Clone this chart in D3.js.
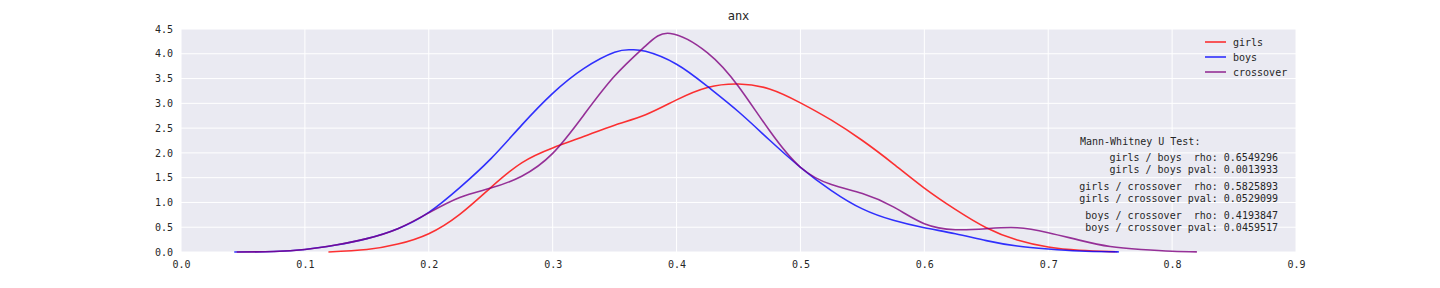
<!DOCTYPE html>
<html>
<head>
<meta charset="utf-8">
<script src="https://cdn.jsdelivr.net/npm/d3@7"></script>
<style>
  body { margin: 0; background: #fff; }
  text { font-family: "DejaVu Sans Mono", monospace; fill: #262626; }
</style>
</head>
<body>
<svg id="chart"></svg>
<script>
// KDE curves
var girlsX = [0.119, 0.15, 0.175, 0.2, 0.225, 0.25, 0.275, 0.3, 0.325, 0.35, 0.375, 0.4, 0.425, 0.45, 0.475, 0.5, 0.525, 0.55, 0.575, 0.6, 0.625, 0.65, 0.675, 0.7, 0.725, 0.75, 0.755];
var girlsY = [0, 0.05, 0.16, 0.37, 0.76, 1.30, 1.80, 2.10, 2.33, 2.56, 2.77, 3.07, 3.32, 3.39, 3.29, 3.01, 2.66, 2.25, 1.78, 1.29, 0.86, 0.49, 0.24, 0.10, 0.035, 0.008, 0.005];

var boysX = [0.043, 0.075, 0.1, 0.125, 0.15, 0.175, 0.2, 0.225, 0.25, 0.275, 0.3, 0.325, 0.35, 0.363, 0.375, 0.4, 0.425, 0.45, 0.475, 0.5, 0.525, 0.55, 0.575, 0.6, 0.625, 0.65, 0.675, 0.7, 0.725, 0.75, 0.757];
var boysY = [0, 0.01, 0.05, 0.14, 0.27, 0.47, 0.80, 1.30, 1.88, 2.56, 3.20, 3.70, 4.03, 4.08, 4.05, 3.79, 3.34, 2.83, 2.26, 1.71, 1.24, 0.87, 0.64, 0.49, 0.37, 0.23, 0.12, 0.06, 0.02, 0.005, 0.003];

var crossX = [0.045, 0.075, 0.1, 0.125, 0.15, 0.175, 0.2, 0.225, 0.25, 0.275, 0.3, 0.325, 0.35, 0.375, 0.395, 0.425, 0.45, 0.475, 0.5, 0.525, 0.55, 0.575, 0.6, 0.625, 0.65, 0.675, 0.7, 0.725, 0.75, 0.775, 0.8, 0.82];
var crossY = [0, 0.01, 0.05, 0.14, 0.27, 0.47, 0.79, 1.10, 1.29, 1.53, 1.99, 2.76, 3.55, 4.16, 4.41, 4.02, 3.34, 2.45, 1.71, 1.36, 1.18, 0.91, 0.57, 0.45, 0.47, 0.49, 0.39, 0.24, 0.11, 0.05, 0.015, 0.003];

var seriesNames = ["girls", "boys", "crossover"];
var seriesColors = ["red", "blue", "purple"];

var xTicks = [0.0, 0.1, 0.2, 0.3, 0.4, 0.5, 0.6, 0.7, 0.8, 0.9];
var yTicks = [0.0, 0.5, 1.0, 1.5, 2.0, 2.5, 3.0, 3.5, 4.0, 4.5];

var statsTitle = "Mann-Whitney U Test:";
var statsLines = [
  ["girls / boys  rho: 0.6549296", "girls / boys pval: 0.0013933"],
  ["girls / crossover  rho: 0.5825893", "girls / crossover pval: 0.0529099"],
  ["boys / crossover  rho: 0.4193847", "boys / crossover pval: 0.0459517"]
];

var width = 1440, height = 288;
var margin = {left: 181, right: 144, top: 29, bottom: 36};
var plotW = width - margin.left - margin.right;
var plotH = height - margin.top - margin.bottom;

var svg = d3.select("#chart").attr("width", width).attr("height", height);

var x = d3.scaleLinear().domain([0, 0.9]).range([0, plotW]);
var y = d3.scaleLinear().domain([0, 4.5]).range([plotH, 0]);

var g = svg.append("g").attr("transform", "translate(" + margin.left + "," + margin.top + ")");

g.append("rect").attr("width", plotW).attr("height", plotH).attr("fill", "#eaeaf2");

// grid
g.selectAll(".vgrid").data(xTicks).enter().append("line")
  .attr("x1", function(d) { return x(d); }).attr("x2", function(d) { return x(d); })
  .attr("y1", 0).attr("y2", plotH)
  .attr("stroke", "#fff").attr("stroke-width", 1);
g.selectAll(".hgrid").data(yTicks).enter().append("line")
  .attr("y1", function(d) { return y(d); }).attr("y2", function(d) { return y(d); })
  .attr("x1", 0).attr("x2", plotW)
  .attr("stroke", "#fff").attr("stroke-width", 1);

// axes (labels only, no tick marks)
var xAxis = g.append("g").attr("transform", "translate(0," + plotH + ")")
  .call(d3.axisBottom(x).tickValues(xTicks).tickFormat(d3.format(".1f")).tickSize(0).tickPadding(9));
var yAxis = g.append("g")
  .call(d3.axisLeft(y).tickValues(yTicks).tickFormat(d3.format(".1f")).tickSize(0).tickPadding(8));
[xAxis, yAxis].forEach(function(a) {
  a.select(".domain").remove();
  a.selectAll("text").attr("font-size", 10).attr("font-family", "DejaVu Sans Mono, monospace").attr("fill", "#262626");
});

// curves
var line = d3.line()
  .x(function(d) { return x(d[0]); })
  .y(function(d) { return y(Math.max(0, d[1])); })
  .curve(d3.curveNatural);

var curves = [d3.zip(girlsX, girlsY), d3.zip(boysX, boysY), d3.zip(crossX, crossY)];
g.selectAll(".kde").data(curves).enter().append("path")
  .attr("d", line)
  .attr("fill", "none")
  .attr("stroke", function(d, i) { return seriesColors[i]; })
  .attr("stroke-opacity", 0.8)
  .attr("stroke-width", 1.6);

// legend
var leg = svg.append("g").attr("transform", "translate(1205,42)");
seriesNames.forEach(function(name, i) {
  leg.append("line").attr("x1", 0).attr("x2", 21).attr("y1", i * 15).attr("y2", i * 15)
    .attr("stroke", seriesColors[i]).attr("stroke-opacity", 0.8).attr("stroke-width", 1.6);
  leg.append("text").attr("x", 28).attr("y", i * 15).attr("dy", "0.35em")
    .attr("font-size", 10).text(name);
});

// stats annotation
svg.append("text").attr("x", 1080).attr("y", 141).attr("dy", "0.35em")
  .attr("font-size", 10).text(statsTitle);
statsLines.forEach(function(pair, i) {
  pair.forEach(function(s, j) {
    svg.append("text").attr("x", 1278).attr("y", 157 + i * 29 + j * 12).attr("dy", "0.35em")
      .attr("text-anchor", "end").attr("font-size", 10)
      .style("white-space", "pre").text(s);
  });
});

// title
svg.append("text").attr("x", margin.left + plotW / 2).attr("y", 20)
  .attr("text-anchor", "middle").attr("font-size", 12).text("anx");
</script>
</body>
</html>
